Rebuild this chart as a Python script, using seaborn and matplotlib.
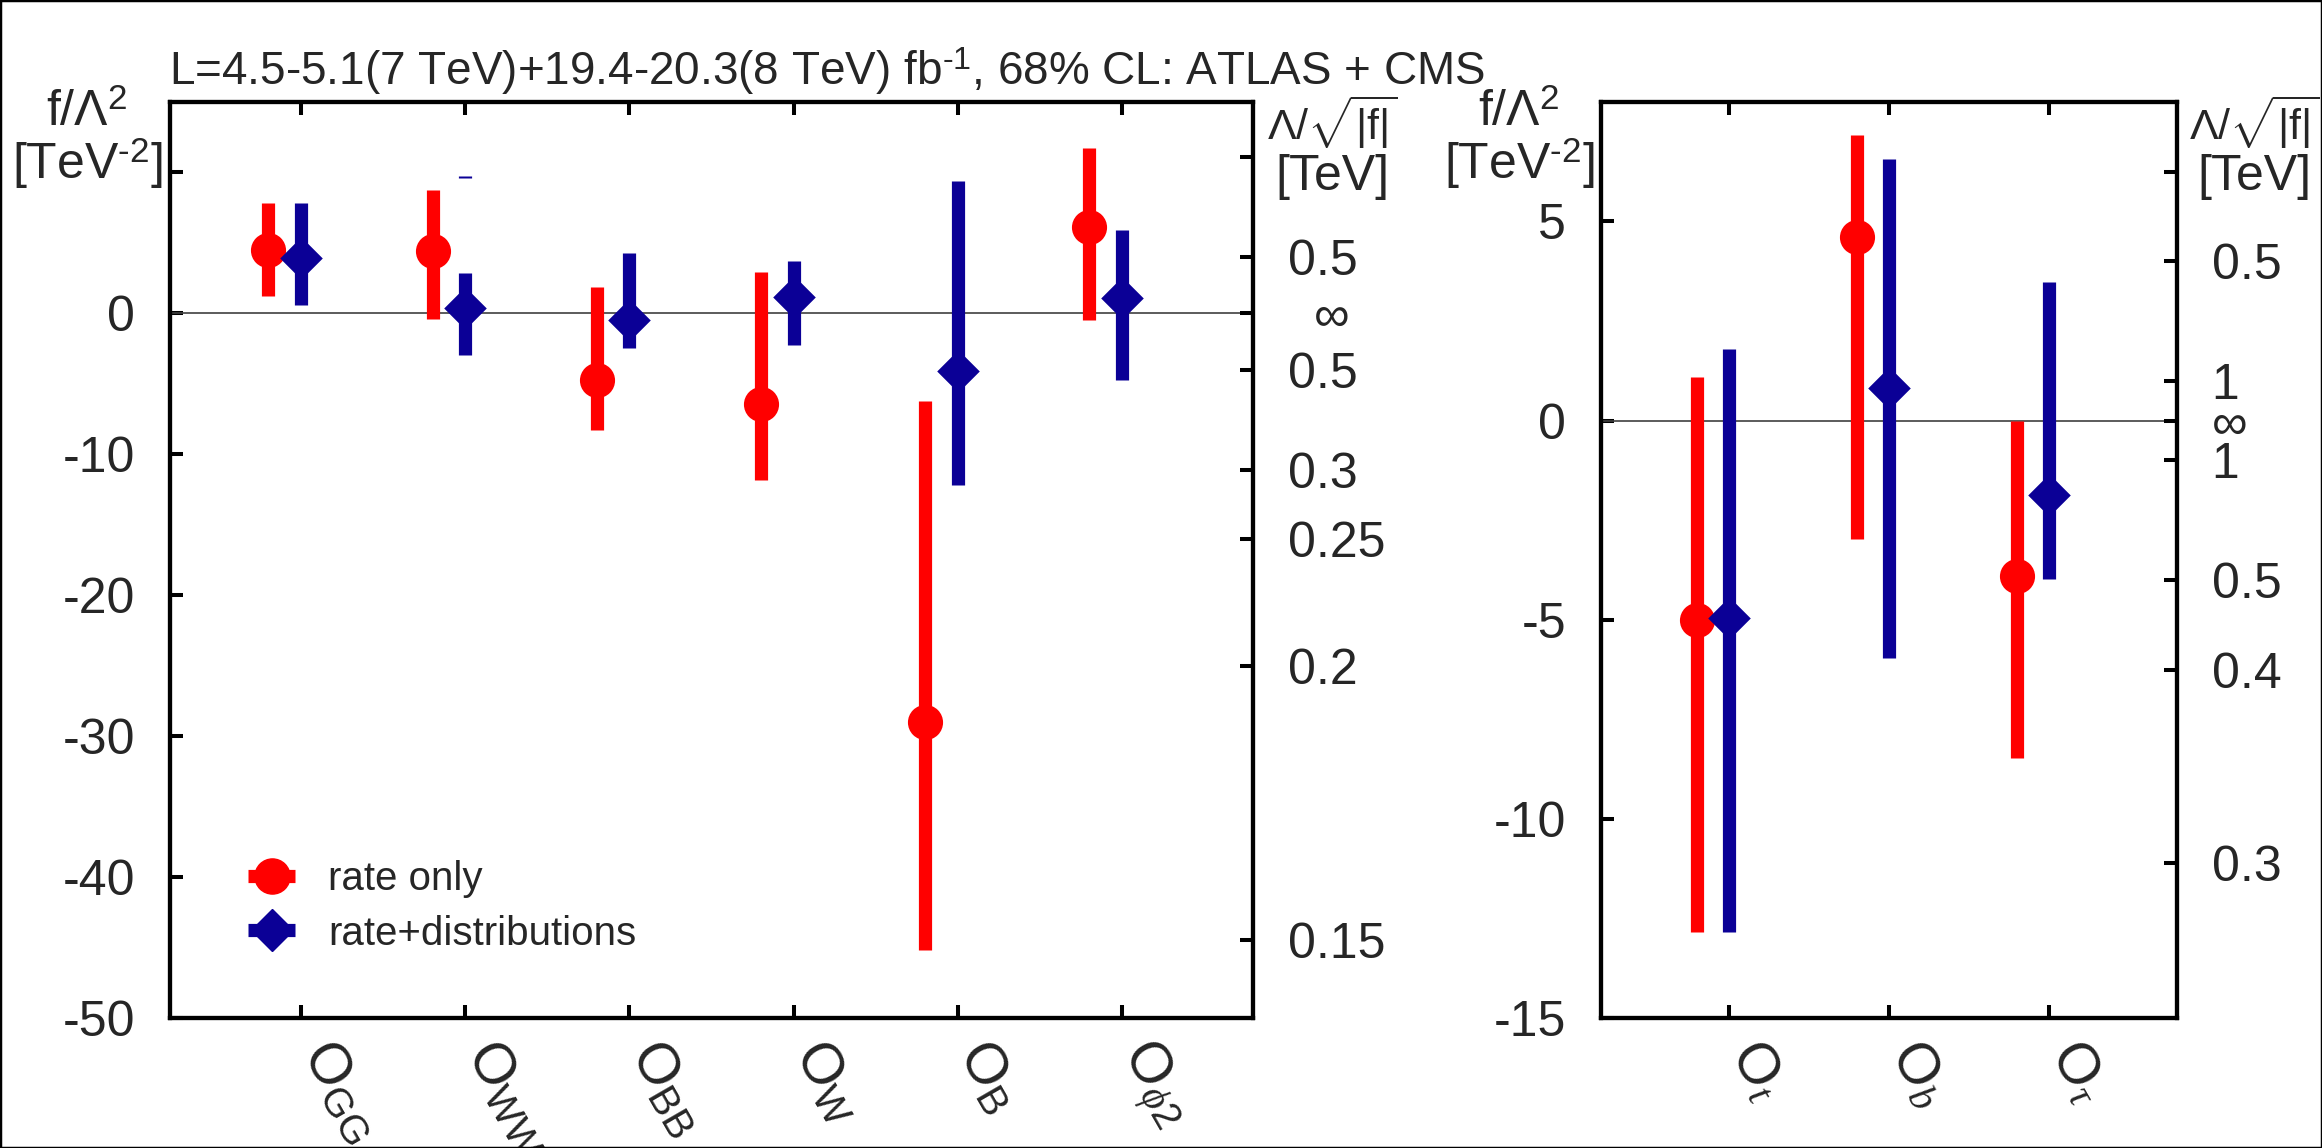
import numpy as np
import pandas as pd
import matplotlib
matplotlib.use("Agg")
import matplotlib.pyplot as plt
import seaborn as sns
from matplotlib.lines import Line2D
from matplotlib.patches import Rectangle

# ---------------- data ----------------
left_ops = ["O$_\\mathregular{GG}$", "O$_\\mathregular{WW}$", "O$_\\mathregular{BB}$",
            "O$_\\mathregular{W}$", "O$_\\mathregular{B}$", "O$_{\\phi\\mathregular{2}}$"]
left_rate_val = [4.5, 4.45, -4.7, -6.4, -29.0, 6.15]
left_rate_lo = [1.2, -0.4, -8.3, -11.8, -45.2, -0.5]
left_rate_hi = [7.8, 8.75, 1.9, 2.95, -6.25, 11.75]
left_dist_val = [3.95, 0.35, -0.5, 1.13, -4.1, 1.1]
left_dist_lo = [0.6, -2.95, -2.45, -2.25, -12.2, -4.75]
left_dist_hi = [7.8, 2.9, 4.25, 3.73, 9.4, 5.95]
# small disjoint blue interval seen above O_WW
left_dist_extra_op = [1]
left_dist_extra_lo = [9.62]
left_dist_extra_hi = [9.78]

right_ops = ["O$_{t}$", "O$_{b}$", "O$_{\\tau}$"]
right_rate_val = [-5.0, 4.62, -3.91]
right_rate_lo = [-12.85, -2.98, -8.46]
right_rate_hi = [1.1, 7.17, 0.0]
right_dist_val = [-4.95, 0.83, -1.86]
right_dist_lo = [-12.85, -5.96, -3.98]
right_dist_hi = [1.79, 6.56, 3.47]

left_yticks = [10, 0, -10, -20, -30, -40, -50]
left_yticklabels = ["", "0", "-10", "-20", "-30", "-40", "-50"]
right_yticks = [5, 0, -5, -10, -15]
right_yticklabels = ["5", "0", "-5", "-10", "-15"]

left_lam_vals = [0.3, 0.5, np.inf, 0.5, 0.3, 0.25, 0.2, 0.15]
left_lam_sign = [1, 1, 0, -1, -1, -1, -1, -1]
left_lam_labels = ["", "0.5", "", "0.5", "0.3", "0.25", "0.2", "0.15"]
right_lam_vals = [0.4, 0.5, 1.0, np.inf, 1.0, 0.5, 0.4, 0.3]
right_lam_sign = [1, 1, 1, 0, -1, -1, -1, -1]
right_lam_labels = ["", "0.5", "1", "\u221e", "1", "0.5", "0.4", "0.3"]

series_names = ["rate only", "rate+distributions"]
RED = "#ff0000"
BLUE = "#0b0096"

# ---------------- style ----------------
sns.set_theme(style="ticks")
plt.rcParams["font.family"] = ["Liberation Sans", "DejaVu Sans"]
plt.rcParams["mathtext.fontset"] = "custom"
plt.rcParams["mathtext.rm"] = "Liberation Sans"
plt.rcParams["mathtext.it"] = "Liberation Serif:italic"
plt.rcParams["mathtext.bf"] = "Liberation Sans:bold"
plt.rcParams["axes.unicode_minus"] = False

W, H = 2322, 1148
fig = plt.figure(figsize=(W / 100, H / 100), dpi=100)

SPINE_LW = 3.0
BAR_LW = 9.5
TICK_FS = 36
PAD = 25


def frame(l, t, r, b):
    return [l / W, 1 - b / H, (r - l) / W, (b - t) / H]


def make_df(vals, lo, hi, name, offset):
    n = len(vals)
    return pd.DataFrame({"x": np.arange(n) + offset, "val": vals, "lo": lo, "hi": hi,
                         "series": [name] * n})


def panel(rect, ops, rv, rlo, rhi, dv, dlo, dhi, ylim, yt, ytl, lam_vals, lam_sign, lam_labels,
          xlim):
    ax = fig.add_axes(rect)
    d_rate = make_df(rv, rlo, rhi, series_names[0], -0.2)
    d_dist = make_df(dv, dlo, dhi, series_names[1], 0.0)
    ax.axhline(0, color="#404040", lw=1.2, zorder=1)
    for d, c in ((d_rate, RED), (d_dist, BLUE)):
        ax.vlines(d["x"], d["lo"], d["hi"], color=c, lw=BAR_LW, zorder=2)
    sns.scatterplot(data=d_rate, x="x", y="val", marker="o", color=RED, s=640,
                    linewidth=0, ax=ax, zorder=3, legend=False)
    sns.scatterplot(data=d_dist, x="x", y="val", marker="D", color=BLUE, s=470,
                    linewidth=0, ax=ax, zorder=3, legend=False)
    ax.set_xlim(*xlim)
    ax.set_ylim(*ylim)
    ax.set_xlabel("")
    ax.set_ylabel("")
    ax.set_xticks(np.arange(len(ops)))
    ax.set_xticklabels(ops, rotation=-60, ha="left", va="baseline",
                       rotation_mode="anchor", fontsize=41)
    ax.set_yticks(yt)
    ax.set_yticklabels(ytl, fontsize=TICK_FS)
    ax.tick_params(axis="both", direction="in", length=9.5, width=2.9, pad=PAD,
                   top=True, right=False, color="black")
    for s in ax.spines.values():
        s.set_linewidth(SPINE_LW)
        s.set_color("black")
    ax2 = ax.twinx()
    ax2.set_ylim(*ylim)
    pos = [0.0 if sg == 0 else sg / v ** 2 for v, sg in zip(lam_vals, lam_sign)]
    ax2.set_yticks(pos)
    ax2.set_yticklabels(lam_labels, fontsize=TICK_FS)
    ax2.tick_params(axis="y", direction="in", length=9.5, width=2.9, pad=PAD, color="black")
    for s in ax2.spines.values():
        s.set_linewidth(SPINE_LW)
        s.set_color("black")
    ax.set_facecolor("white")
    return ax, ax2


axL, axL2 = panel(frame(170, 102, 1253, 1018), left_ops, left_rate_val, left_rate_lo,
                  left_rate_hi, left_dist_val, left_dist_lo, left_dist_hi, (-50, 15),
                  left_yticks, left_yticklabels, left_lam_vals, left_lam_sign,
                  left_lam_labels, (-0.8, 5.8))
axL.vlines(left_dist_extra_op, left_dist_extra_lo, left_dist_extra_hi, color=BLUE,
           lw=BAR_LW, zorder=2)
# infinity label of the left panel sits a little to the right of the others
axL2.annotate("\u221e", xy=(1, 0), xycoords=("axes fraction", "data"),
              xytext=(44, -3), textcoords="offset points", ha="left", va="center",
              fontsize=TICK_FS)

axR, axR2 = panel(frame(1601, 102, 2177, 1018), right_ops, right_rate_val, right_rate_lo,
                  right_rate_hi, right_dist_val, right_dist_lo, right_dist_hi, (-15, 8),
                  right_yticks, right_yticklabels, right_lam_vals, right_lam_sign,
                  right_lam_labels, (-0.8, 2.8))

# legend
handles = [Line2D([0], [0], color=RED, marker="o", ms=25.3, lw=BAR_LW,
                  solid_capstyle="butt"),
           Line2D([0], [0], color=BLUE, marker="D", ms=21.7, lw=BAR_LW,
                  solid_capstyle="butt")]
axL.legend(handles, series_names, loc="upper left", bbox_to_anchor=(0.072, 0.172),
           frameon=False, fontsize=29, handlelength=1.17, handletextpad=0.82,
           labelspacing=0.4, borderpad=0, borderaxespad=0)

# texts
fig.text(169 / W, 1 - 85 / H,
         "L=4.5-5.1(7 TeV)+19.4-20.3(8 TeV) fb$^{\\text{-}1}$, 68% CL: ATLAS + CMS",
         ha="left", va="baseline", fontsize=33)
ylab = "f/\u039b$^2$\n[TeV$^{\\text{-}2}$]"
fig.text(87 / W, 1 - 90 / H, ylab, ha="center", va="top", fontsize=TICK_FS,
         multialignment="center", linespacing=1.0)
fig.text(1519 / W, 1 - 90 / H, ylab, ha="center", va="top", fontsize=TICK_FS,
         multialignment="center", linespacing=1.0)
lam_top = "$\\Lambda/\\sqrt{|\\mathregular{f}|}$"
for cx in (1332, 2254):
    fig.text(cx / W, 1 - 140 / H, lam_top, ha="center", va="baseline", fontsize=31)
    fig.text(cx / W, 1 - 190 / H, "[TeV]", ha="center", va="baseline", fontsize=TICK_FS)

fig.patches.append(Rectangle((0, 0), 1, 1, transform=fig.transFigure, fill=False,
                             lw=2.5, ec="black"))

fig.savefig("out.png", dpi=100, facecolor="white")
